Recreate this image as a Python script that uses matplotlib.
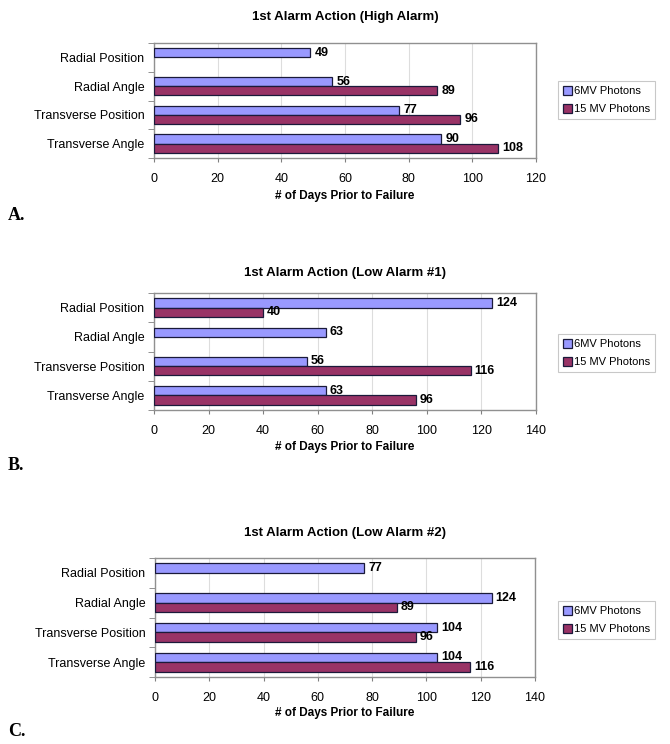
import numpy as np
import matplotlib
matplotlib.use('Agg')
import matplotlib.pyplot as plt
from matplotlib.ticker import FixedLocator
from matplotlib.patches import Patch

plt.rcParams['font.family'] = ['Liberation Sans', 'DejaVu Sans']

categories = ['Radial Position', 'Radial Angle', 'Transverse Position', 'Transverse Angle']
series_names = ['6MV Photons', '15 MV Photons']

# None = no bar in the original
high_6mv = [49, 56, 77, 90]
high_15mv = [None, 89, 96, 108]

low1_6mv = [124, 63, 56, 63]
low1_15mv = [40, None, 116, 96]

low2_6mv = [77, 124, 104, 104]
low2_15mv = [None, 89, 96, 116]

titles = ['1st Alarm Action (High Alarm)', '1st Alarm Action (Low Alarm #1)',
          '1st Alarm Action (Low Alarm #2)']
panel_labels = ['A.', 'B.', 'C.']
xmax = [120, 140, 140]

c6 = '#9999ff'
c15 = '#993366'
edge = '#1a1a3a'

W, H = 670, 744
fig = plt.figure(figsize=(W / 100, H / 100), dpi=100)

# pixel layout: (left, top, right, bottom), title y, xlabel y, panel label y, legend center y
layout = [
    ((154, 43, 536, 158), 17, 196, 215, 100),
    ((154, 293, 536, 410), 273, 447, 466, 353),
    ((155, 558, 535, 677), 533, 713, 732, 620),
]

data = [(high_6mv, high_15mv), (low1_6mv, low1_15mv), (low2_6mv, low2_15mv)]

h = 0.32
y = np.arange(len(categories))

for k, ((l, t, r, b), ty, xly, ply, legy) in enumerate(layout):
    ax = fig.add_axes([l / W, 1 - b / H, (r - l) / W, (b - t) / H])
    s6, s15 = data[k]
    v6 = [v if v is not None else 0 for v in s6]
    v15 = [v if v is not None else 0 for v in s15]
    bars6 = ax.barh(y - h / 2, v6, height=h, color=c6, edgecolor=edge, linewidth=0.9, zorder=3)
    bars15 = ax.barh(y + h / 2, v15, height=h, color=c15, edgecolor=edge, linewidth=0.9, zorder=3)
    for i in range(len(categories)):
        if s15[i] is None:
            bars15[i].set_visible(False)
        else:
            ax.text(s15[i] + 1.5, y[i] + h / 2, str(s15[i]), va='center', ha='left',
                    fontsize=9, fontweight='bold', zorder=4)
        ax.text(s6[i] + 1.5, y[i] - h / 2, str(s6[i]), va='center', ha='left',
                fontsize=9, fontweight='bold', zorder=4)

    ax.set_xlim(0, xmax[k])
    ax.set_ylim(len(categories) - 0.5, -0.5)
    ax.set_xticks(np.arange(0, xmax[k] + 1, 20))
    ax.set_yticks(y)
    ax.set_yticklabels(categories, fontsize=9)
    ax.yaxis.set_minor_locator(FixedLocator(np.arange(-0.5, len(categories), 1)))
    ax.tick_params(axis='y', which='major', length=0, pad=7)
    ax.tick_params(axis='y', which='minor', length=4, color='#808080')
    ax.tick_params(axis='x', length=3, color='#808080', labelsize=9, pad=8)
    ax.grid(axis='x', color='#dddddd', linewidth=0.8, zorder=0)
    for sp in ax.spines.values():
        sp.set_color('#909090')
        sp.set_linewidth(1.0)

    cx = (l + r) / 2 / W
    fig.text(cx, 1 - ty / H, titles[k], ha='center', va='center', fontsize=9.5, fontweight='bold')
    fig.text(cx, 1 - xly / H, '# of Days Prior to Failure', ha='center', va='center',
             fontsize=8.5, fontweight='bold')
    fig.text(8 / W, 1 - ply / H, panel_labels[k], ha='left', va='center', fontsize=13,
             fontweight='bold', family=['Liberation Serif', 'DejaVu Serif'])

    handles = [Patch(facecolor=c6, edgecolor=edge, linewidth=0.9),
               Patch(facecolor=c15, edgecolor=edge, linewidth=0.9)]
    leg = ax.legend(handles, series_names, loc='center left',
                    bbox_to_anchor=(558 / W, 1 - legy / H),
                    bbox_transform=fig.transFigure, fontsize=8, frameon=True,
                    fancybox=False, handlelength=0.8, handleheight=0.9,
                    handletextpad=0.2, borderpad=0.45, labelspacing=0.7,
                    borderaxespad=0)
    leg.get_frame().set_edgecolor('#bbbbbb')
    leg.get_frame().set_linewidth(0.8)

fig.savefig('out.png', dpi=100)
